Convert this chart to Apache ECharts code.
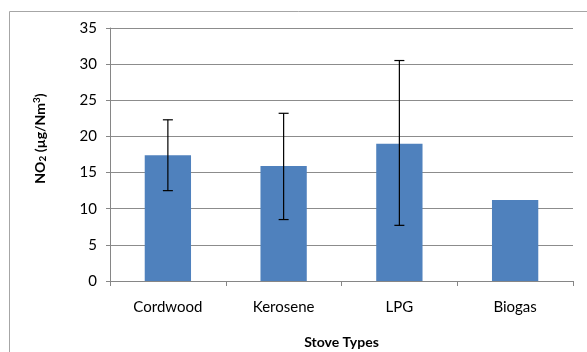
<!DOCTYPE html>
<html><head><meta charset="utf-8">
<script src="https://cdn.jsdelivr.net/npm/echarts@6/dist/echarts.min.js"></script>
<style>html,body{margin:0;padding:0;background:#fff}#c{width:587px;height:352px}</style>
</head><body><div id="c"></div>
<script>
const categories = ['Cordwood', 'Kerosene', 'LPG', 'Biogas'];
const meanValues = [17.4, 15.9, 19.0, 11.2];
const errorLow = [12.5, 8.5, 7.7, null];
const errorHigh = [22.3, 23.2, 30.5, null];
const yTicks = [0, 5, 10, 15, 20, 25, 30, 35];

const errData = categories.map((c, i) => [i, errorLow[i], errorHigh[i]]).filter(d => d[1] != null);
const FONT = 'Lato';
const chart = echarts.init(document.getElementById('c'), null, {renderer: 'canvas'});
chart.setOption({
  animation: false,
  backgroundColor: '#fff',
  graphic: [{
    type: 'rect', silent: true, z: -10,
    shape: {x: 9.5, y: 11.5, width: 700, height: 500},
    style: {fill: 'none', stroke: '#a6a6a6', lineWidth: 1}
  }],
  grid: {left: 110, right: 14, top: 28, bottom: 71, containLabel: false, outerBoundsMode: 'none'},
  xAxis: {
    type: 'category', data: categories,
    name: 'Stove Types', nameLocation: 'middle', nameGap: 54,
    nameTextStyle: {fontFamily: FONT, fontWeight: 'bold', fontSize: 14, color: '#000'},
    axisLine: {lineStyle: {color: '#868686', width: 1}},
    axisTick: {show: true, length: 5, lineStyle: {color: '#868686'}, alignWithLabel: false},
    axisLabel: {fontFamily: FONT, fontSize: 15, color: '#000', margin: 19}
  },
  yAxis: {
    type: 'value', min: yTicks[0], max: yTicks[yTicks.length - 1], interval: 5,
    name: '{n|NO}{s|2}{n| (µg/Nm}{p|3}{n|)}', nameLocation: 'middle', nameGap: 62, nameRotate: 90,
    nameTextStyle: {
      fontFamily: FONT, fontWeight: 'bold', fontSize: 14, color: '#000', padding: [0, 0, 0, 32],
      rich: {
        n: {fontFamily: FONT, fontWeight: 'bold', fontSize: 14, color: '#000'},
        s: {fontFamily: FONT, fontWeight: 'bold', fontSize: 10, color: '#000', verticalAlign: 'bottom', padding: [6, 0, 0, 0]},
        p: {fontFamily: FONT, fontWeight: 'bold', fontSize: 10, color: '#000', verticalAlign: 'top', padding: [0, 0, 6, 0]}
      }
    },
    axisLine: {show: true, lineStyle: {color: '#868686', width: 1}},
    axisTick: {show: true, length: 4, lineStyle: {color: '#868686'}},
    splitLine: {show: true, lineStyle: {color: '#8c8c8c', width: 1}},
    axisLabel: {fontFamily: FONT, fontSize: 15, color: '#000', margin: 13}
  },
  series: [{
    type: 'bar', data: meanValues, barWidth: '40%',
    itemStyle: {color: '#4f81bd'}, z: 2
  }, {
    type: 'custom', data: errData, z: 3,
    renderItem: function (params, api) {
      const x = api.value(0);
      const lo = api.coord([x, api.value(1)]);
      const hi = api.coord([x, api.value(2)]);
      const hw = 5;
      const st = {stroke: '#000', lineWidth: 1.2};
      return {type: 'group', children: [
        {type: 'line', shape: {x1: lo[0], y1: lo[1], x2: hi[0], y2: hi[1]}, style: st},
        {type: 'line', shape: {x1: lo[0] - hw, y1: lo[1], x2: lo[0] + hw, y2: lo[1]}, style: st},
        {type: 'line', shape: {x1: hi[0] - hw, y1: hi[1], x2: hi[0] + hw, y2: hi[1]}, style: st}
      ]};
    }
  }]
});
</script></body></html>
